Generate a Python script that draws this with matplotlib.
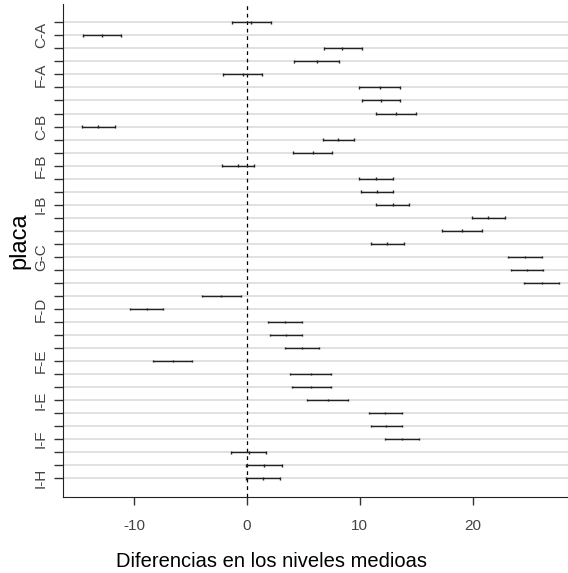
import matplotlib
matplotlib.use("Agg")
import matplotlib.pyplot as plt
import numpy as np

plt.rcParams['font.family'] = ['Liberation Sans', 'DejaVu Sans']

comparisons = ["B-A", "C-A", "D-A", "E-A", "F-A", "G-A", "H-A", "I-A",
               "C-B", "D-B", "E-B", "F-B", "G-B", "H-B", "I-B",
               "D-C", "E-C", "F-C", "G-C", "H-C", "I-C",
               "E-D", "F-D", "G-D", "H-D", "I-D",
               "F-E", "G-E", "H-E", "I-E",
               "G-F", "H-F", "I-F",
               "H-G", "I-G",
               "I-H"]
diff = [0.33, -12.81, 8.43, 6.22, -0.38, 11.80, 11.92, 13.25,
        -13.21, 8.11, 5.81, -0.80, 11.42, 11.50, 12.92,
        21.33, 19.05, 12.42, 24.66, 24.78, 26.13,
        -2.27, -8.88, 3.36, 3.45, 4.84,
        -6.58, 5.64, 5.72, 7.14,
        12.24, 12.33, 13.74,
        0.15, 1.50,
        1.42]
lwr = [-1.30, -14.54, 6.79, 4.16, -2.12, 9.94, 10.20, 11.42,
       -14.63, 6.70, 4.07, -2.21, 9.94, 10.12, 11.42,
       19.91, 17.32, 11.03, 23.16, 23.36, 24.57,
       -4.01, -10.33, 1.86, 2.01, 3.36,
       -8.32, 3.83, 4.01, 5.31,
       10.80, 10.97, 12.24,
       -1.39, -0.09,
       -0.09]
upr = [2.09, -11.12, 10.18, 8.20, 1.30, 13.57, 13.57, 14.98,
       -11.71, 9.53, 7.55, 0.62, 12.95, 12.95, 14.40,
       22.86, 20.86, 13.92, 26.17, 26.22, 27.64,
       -0.53, -7.43, 4.87, 4.87, 6.35,
       -4.87, 7.46, 7.46, 8.94,
       13.78, 13.78, 15.22,
       1.68, 3.07,
       2.92]
shown_labels = ["C-A", "F-A", "C-B", "F-B", "I-B", "G-C", "F-D", "F-E", "I-E", "I-F", "I-H"]
x_ticks = [-10, 0, 10, 20]

W, H = 568, 573
fig = plt.figure(figsize=(W / 100, H / 100), dpi=100)
ax = fig.add_axes([62.7 / W, 1 - 496.5 / H, (578 - 62.7) / W, (496.5 - 4.1) / H])

n = len(comparisons)
yvals = np.arange(n, 0, -1)

for y in yvals:
    ax.axhline(y, color="#d9d9d9", lw=1.1, zorder=1)
ax.axvline(0, color="black", lw=0.9, dashes=(3, 3), zorder=2)

ax.hlines(yvals, lwr, upr, color="#222222", lw=1.0, zorder=3)
for arr in (lwr, diff, upr):
    ax.vlines(arr, yvals - 0.1, yvals + 0.1, color="#222222", lw=1.0, zorder=3)

ax.set_xlim(-16.32, 29.33)
ax.set_ylim(-0.4, 37.4)

ax.set_xticks(x_ticks)
ax.set_xticklabels([str(t) for t in x_ticks])
ax.set_yticks(yvals)
ax.set_yticklabels([c if c in shown_labels else "" for c in comparisons],
                   rotation=90, va="center")

ax.tick_params(axis="x", length=6, width=1, pad=10, labelsize=11, colors="#333333")
ax.tick_params(axis="y", length=6.5, width=1, pad=4, labelsize=11, colors="#333333")
for lab in ax.get_xticklabels() + ax.get_yticklabels():
    lab.set_color("#444444")

ax.spines["top"].set_visible(False)
ax.spines["right"].set_visible(False)
ax.spines["left"].set_color("#222222")
ax.spines["bottom"].set_color("#222222")
ax.set_facecolor("white")

fig.text(271 / W, 1 - 567.3 / H, "Diferencias en los niveles medioas",
         ha="center", va="baseline", fontsize=14.5, color="black")
fig.text(19 / W, 1 - 241 / H, "placa", rotation=90, ha="center", va="center",
         fontsize=17, color="black")

fig.savefig("out.png", dpi=100, facecolor="white")
